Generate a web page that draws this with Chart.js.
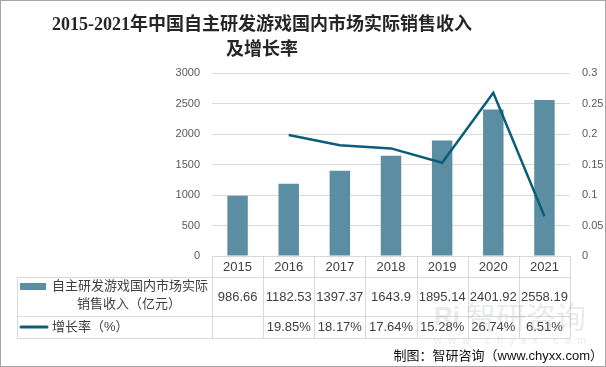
<!DOCTYPE html>
<html lang="zh">
<head>
<meta charset="UTF-8">
<title>自主研发游戏国内市场实际销售收入及增长率</title>
<script src="https://cdn.jsdelivr.net/npm/chart.js"></script>
<style>
  html, body { margin: 0; padding: 0; background: #fff; }
</style>
</head>
<body>
<canvas id="chart" width="606" height="367"></canvas>
<script>
  // === 数据 ===
  const years = ["2015", "2016", "2017", "2018", "2019", "2020", "2021"];
  const revenue = [986.66, 1182.53, 1397.37, 1643.9, 1895.14, 2401.92, 2558.19]; // 亿元
  const growth = [null, 0.1985, 0.1817, 0.1764, 0.1528, 0.2674, 0.0651];
  const revenueLabel = ["自主研发游戏国内市场实际", "销售收入（亿元）"];
  const growthLabel = "增长率（%）";

  const barColor = "#5b8ea3";
  const lineColor = "#0c5d7a";
  const gridColor = "#d9d9d9";
  const textColor = "#404040";
  const sans = '"Liberation Sans", "Noto Sans CJK SC", sans-serif';

  // 标题、数据表、水印、边框
  const decor = {
    id: "decor",
    afterDraw(chart) {
      const { ctx, chartArea, scales: { x } } = chart;
      const half = (x.getPixelForValue(1) - x.getPixelForValue(0)) / 2;
      const y0 = Math.round(chartArea.bottom), y1 = y0 + 21, y2 = y1 + 39, y3 = y2 + 22;
      const left = 17;
      const rEdge = Math.round(x.getPixelForValue(years.length - 1) + half) + 0.5;

      ctx.save();
      // 表格线
      ctx.strokeStyle = gridColor;
      ctx.lineWidth = 1;
      ctx.beginPath();
      years.forEach((_, i) => {
        const b = Math.round(x.getPixelForValue(i) - half) + 0.5;
        ctx.moveTo(b, y0); ctx.lineTo(b, y3);
      });
      ctx.moveTo(rEdge, y0); ctx.lineTo(rEdge, y3);
      ctx.moveTo(left + 0.5, y1); ctx.lineTo(left + 0.5, y3);
      [y1, y2, y3].forEach(y => { ctx.moveTo(left, y + 0.5); ctx.lineTo(rEdge, y + 0.5); });
      ctx.stroke();

      // 表格文字
      ctx.fillStyle = textColor;
      ctx.font = "13px " + sans;
      ctx.textAlign = "center";
      ctx.textBaseline = "middle";
      years.forEach((yr, i) => {
        const cx = x.getPixelForValue(i);
        ctx.fillText(yr, cx, y0 + 11);
        ctx.fillText(String(revenue[i]), cx, y1 + 20);
        if (growth[i] !== null) ctx.fillText((growth[i] * 100).toFixed(2) + "%", cx, y2 + 11);
      });

      // 图例
      ctx.fillStyle = barColor;
      ctx.fillRect(20, 283, 26, 7);
      ctx.strokeStyle = lineColor;
      ctx.lineWidth = 3;
      ctx.lineCap = "round";
      ctx.beginPath(); ctx.moveTo(21, y2 + 11); ctx.lineTo(47, y2 + 11); ctx.stroke();
      ctx.fillStyle = textColor;
      ctx.textAlign = "left";
      ctx.fillText(revenueLabel[0], 52, 286);
      ctx.textAlign = "center";
      ctx.fillText(revenueLabel[1], 129, 304);
      ctx.textAlign = "left";
      ctx.fillText(growthLabel, 52, y2 + 11);

      // 水印
      ctx.fillStyle = "rgba(150,160,170,0.22)";
      ctx.font = "30px " + sans;
      ctx.fillText("智研咨询", 466, 320);
      ctx.font = "bold 26px " + sans;
      ctx.fillText("Ri", 434, 318);
      ctx.font = "11px " + sans;
      ctx.fillText("w  w  w  .  c  h  y  x  x  .  c  o  m", 434, 341);

      // 来源
      ctx.fillStyle = "#111";
      ctx.font = "13px " + sans;
      ctx.textAlign = "right";
      ctx.fillText("制图：智研咨询（www.chyxx.com）", 603, 356);

      // 标题
      ctx.fillStyle = "#262626";
      ctx.font = 'bold 18px "Liberation Serif", "Noto Sans CJK SC", serif';
      ctx.textAlign = "center";
      ctx.fillText("2015-2021年中国自主研发游戏国内市场实际销售收入", 262, 25);
      ctx.fillText("及增长率", 262, 50);

      // 边框
      ctx.strokeStyle = "#a6a6a6";
      ctx.lineWidth = 1;
      ctx.strokeRect(0.5, 0.5, 605, 366);
      ctx.restore();
    }
  };

  new Chart(document.getElementById("chart"), {
    data: {
      labels: years,
      datasets: [
        {
          type: "line",
          label: growthLabel,
          data: growth,
          yAxisID: "y1",
          borderColor: lineColor,
          borderWidth: 2.5,
          pointRadius: 0,
          tension: 0,
          order: 0
        },
        {
          type: "bar",
          label: revenueLabel.join(""),
          data: revenue,
          yAxisID: "y",
          backgroundColor: barColor,
          barPercentage: 0.4,
          categoryPercentage: 1,
          order: 1
        }
      ]
    },
    options: {
      responsive: false,
      animation: false,
      layout: { padding: { left: 160, right: 0, top: 73, bottom: 111 } },
      plugins: { legend: { display: false }, tooltip: { enabled: false } },
      scales: {
        x: { display: false, offset: true },
        y: {
          position: "left",
          min: 0, max: 3000,
          ticks: { stepSize: 500, padding: 12, color: "#595959", font: { size: 11, family: "Liberation Sans" }, callback: v => String(v) },
          grid: { color: gridColor, drawTicks: false },
          border: { display: false },
          afterFit: s => { s.width = 52; }
        },
        y1: {
          position: "right",
          min: 0, max: 0.3,
          ticks: { stepSize: 0.05, padding: 12, color: "#595959", font: { size: 11, family: "Liberation Sans" }, callback: v => String(+v.toFixed(2)) },
          grid: { display: false, drawTicks: false },
          border: { display: false },
          afterFit: s => { s.width = 36; }
        }
      }
    },
    plugins: [decor]
  });
</script>
</body>
</html>
